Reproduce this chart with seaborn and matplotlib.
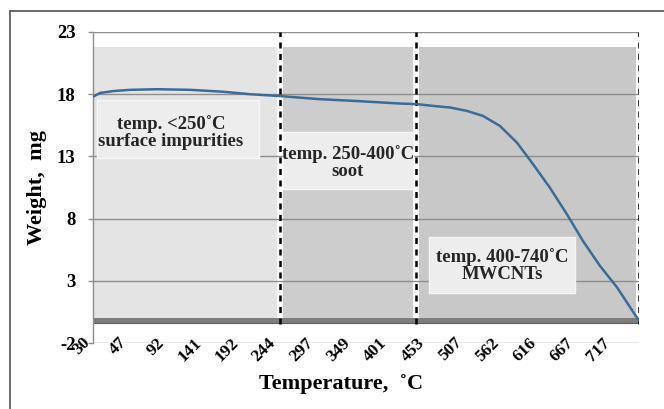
import numpy as np
import matplotlib
matplotlib.use("Agg")
import matplotlib.pyplot as plt
import matplotlib.transforms as mtransforms
import seaborn as sns
from matplotlib.patches import Rectangle
from matplotlib.lines import Line2D

# ── Data ──────────────────────────────────────────────────────────────────────
temp_labels = [30, 47, 92, 141, 192, 244, 297, 349, 401, 453, 507, 562, 616, 667, 717]
y_ticks = [-2, 3, 8, 13, 18, 23]

# sample position (in label steps) and sample weight, mg
sample_pos = [0.00, 0.19, 0.54, 1.00, 1.72, 2.61, 3.49, 4.22, 5.03, 6.10, 7.10,
              8.25, 8.71, 9.14, 9.60, 10.05, 10.48, 10.94, 11.40, 11.83, 12.28,
              12.74, 13.17, 13.63, 14.09, 14.62, 14.68]
weight_mg = [17.8, 18.1, 18.25, 18.35, 18.4, 18.35, 18.2, 18.0, 17.85, 17.6, 17.45,
             17.25, 17.2, 17.06, 16.93, 16.66, 16.26, 15.45, 14.1, 12.38, 10.5,
             8.36, 6.22, 4.2, 2.47, 0.06, -0.2]

stage_bounds = [0, 5.03, 8.68, 14.68]
stage_top = 21.8
stage_labels = ["temp. <250˚C\nsurface impurities",
                "temp. 250-400˚C\nsoot",
                "temp. 400-740˚C\nMWCNTs"]
stage_colors = ["#e4e4e4", "#cdcdcd", "#c8c8c8"]

# label boxes: (x0, x1, y0, y1) and text centre (x, y)
box_extents = [(0.11, 4.46, 12.87, 17.53), (5.11, 8.60, 10.38, 14.96), (9.03, 12.96, 2.02, 6.52)]
box_text_xy = [(2.1, 14.95), (6.85, 12.5), (11.0, 4.2)]

LINE_COLOR = "#3d6b98"

# ── Plot ──────────────────────────────────────────────────────────────────────
sns.set_theme(style="white")
plt.rcParams["font.family"] = ["Liberation Serif", "DejaVu Serif"]

fig = plt.figure(figsize=(6.64, 4.09), dpi=100)
ax = fig.add_axes([93 / 664, 1 - 343 / 409, 546 / 664, 311 / 409])

# stage backgrounds
gap = 0.08
for i, c in enumerate(stage_colors):
    x0 = stage_bounds[i] + (gap if i > 0 else 0)
    x1 = stage_bounds[i + 1] - gap
    ax.fill_between([x0, x1], 0, stage_top, color=c, lw=0, zorder=0.2)
ax.fill_between([stage_bounds[0], stage_bounds[-1]], -0.45, 0, color="#7d7d7d", lw=0, zorder=0.3)
ax.plot([stage_bounds[0], stage_bounds[-1]], [-0.42, -0.42], color="#5e5e5e", lw=0.8, zorder=0.31)

# label boxes
for (x0, x1, y0, y1), (tx, ty), txt in zip(box_extents, box_text_xy, stage_labels):
    ax.add_patch(Rectangle((x0, y0), x1 - x0, y1 - y0, facecolor="#ededed",
                           edgecolor="#f6f6f6", lw=1, zorder=2))
    ax.text(tx, ty, txt, ha="center", va="center", fontsize=13.5, fontweight="bold",
            linespacing=1.0, zorder=3)

# dashed stage boundaries
ax.vlines(stage_bounds[1:], -0.45, 23, colors="black", lw=1.8,
          linestyles=(0, (2.4, 2.2)), zorder=3)

sns.lineplot(x=sample_pos, y=weight_mg, ax=ax, color=LINE_COLOR, lw=1.8,
             estimator=None, sort=False, zorder=4)

ax.set_xlim(stage_bounds[0], stage_bounds[-1])
ax.set_ylim(y_ticks[0], y_ticks[-1])
ax.set_yticks(y_ticks)
ax.set_yticklabels([str(v) for v in y_ticks], fontsize=13.5, fontweight="bold")
ax.set_xticks(range(len(temp_labels)))
ax.set_xticklabels([str(t) for t in temp_labels], fontsize=12.5, fontweight="bold",
                   rotation=45, ha="right", va="top")
shift = mtransforms.ScaledTranslation(9 / 100, 0, fig.dpi_scale_trans)
for lab in ax.get_xticklabels():
    lab.set_transform(lab.get_transform() + shift)

ax.yaxis.grid(True, color="#8e8e8e", lw=1)
ax.set_axisbelow(True)
for s in ["top", "right", "bottom"]:
    ax.spines[s].set_visible(False)
ax.spines["left"].set_color("#8e8e8e")
ax.spines["left"].set_linewidth(1)
ax.tick_params(axis="y", length=3.6, width=1, color="#8e8e8e", pad=9, left=True)
ax.tick_params(axis="x", length=0, pad=-6)
for lab in ax.get_yticklabels() + ax.get_xticklabels():
    lab.set_color("black")

ax.set_xlabel("Temperature,  ˚C", fontsize=16, fontweight="bold", color="black")
ax.xaxis.set_label_coords(0.454, -0.10)
ax.set_ylabel("Weight,  mg", fontsize=16, fontweight="bold", color="black")
ax.yaxis.set_label_coords(-0.085, 0.5)

# outer chart frame (top and left edges visible in the crop)
fig.add_artist(Line2D([10 / 664, 1.0], [1 - 11 / 409] * 2, color="#505050", lw=1.2))
fig.add_artist(Line2D([10 / 664] * 2, [0.0, 1 - 11 / 409], color="#505050", lw=1.2))

fig.savefig("out.png", dpi=100)
